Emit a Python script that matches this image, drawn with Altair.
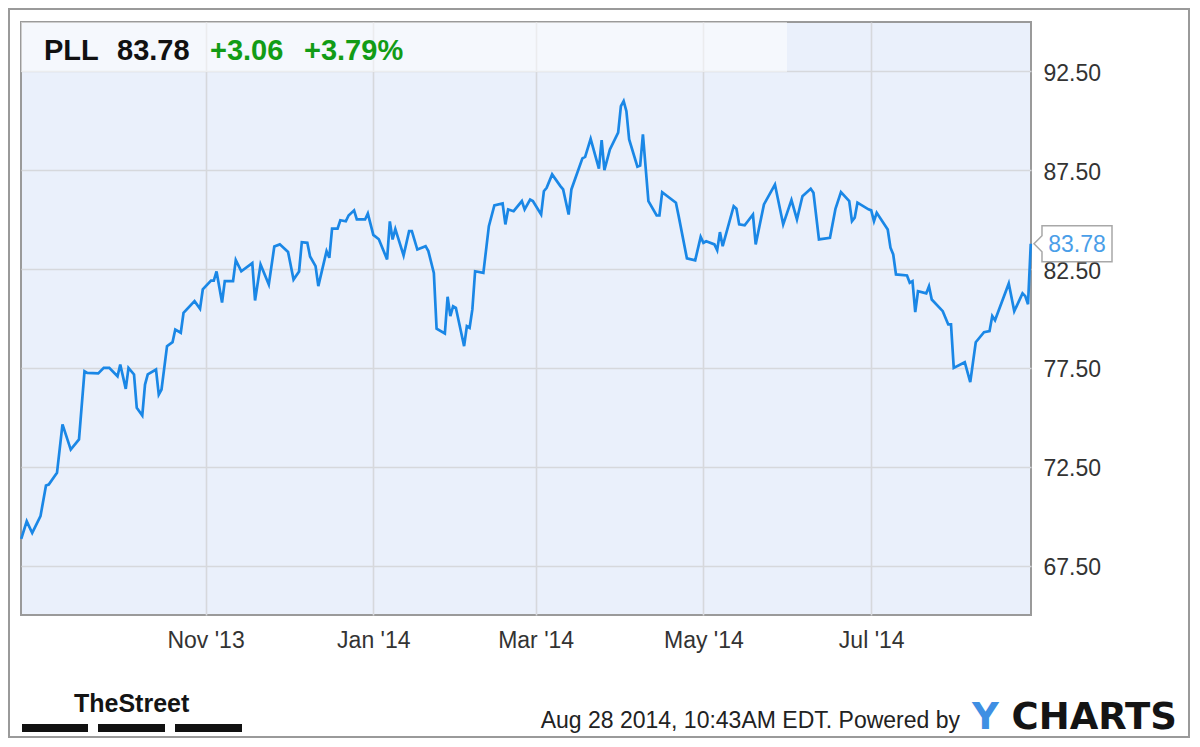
import altair as alt
import pandas as pd

# ---- data ----
dates = [
    "2013-08-26", "2013-08-28", "2013-08-30", "2013-09-02", "2013-09-04", "2013-09-05",
    "2013-09-08", "2013-09-10", "2013-09-13", "2013-09-16", "2013-09-18", "2013-09-19",
    "2013-09-23", "2013-09-25", "2013-09-27", "2013-09-30", "2013-10-01", "2013-10-03",
    "2013-10-04", "2013-10-06", "2013-10-07", "2013-10-09", "2013-10-10", "2013-10-11",
    "2013-10-14", "2013-10-15", "2013-10-16", "2013-10-18", "2013-10-20", "2013-10-21",
    "2013-10-23", "2013-10-24", "2013-10-28", "2013-10-30", "2013-10-31", "2013-11-03",
    "2013-11-04", "2013-11-05", "2013-11-07", "2013-11-08", "2013-11-11", "2013-11-12",
    "2013-11-14", "2013-11-18", "2013-11-19", "2013-11-21", "2013-11-24", "2013-11-26",
    "2013-11-28", "2013-12-01", "2013-12-03", "2013-12-05", "2013-12-06", "2013-12-08",
    "2013-12-09", "2013-12-11", "2013-12-12", "2013-12-15", "2013-12-16", "2013-12-17",
    "2013-12-19", "2013-12-20", "2013-12-22", "2013-12-23", "2013-12-25", "2013-12-26",
    "2013-12-29", "2013-12-30", "2014-01-01", "2014-01-03", "2014-01-06", "2014-01-07",
    "2014-01-08", "2014-01-09", "2014-01-10", "2014-01-12", "2014-01-14", "2014-01-15",
    "2014-01-17", "2014-01-20", "2014-01-21", "2014-01-23", "2014-01-24", "2014-01-27",
    "2014-01-28", "2014-01-29", "2014-01-30", "2014-01-31", "2014-02-03", "2014-02-04",
    "2014-02-05", "2014-02-06", "2014-02-07", "2014-02-10", "2014-02-12", "2014-02-14",
    "2014-02-17", "2014-02-18", "2014-02-19", "2014-02-21", "2014-02-24", "2014-02-25",
    "2014-02-27", "2014-02-28", "2014-03-03", "2014-03-04", "2014-03-05", "2014-03-07",
    "2014-03-10", "2014-03-11", "2014-03-13", "2014-03-14", "2014-03-18", "2014-03-19",
    "2014-03-21", "2014-03-24", "2014-03-25", "2014-03-26", "2014-03-28", "2014-03-31",
    "2014-04-01", "2014-04-02", "2014-04-03", "2014-04-04", "2014-04-07", "2014-04-08",
    "2014-04-09", "2014-04-11", "2014-04-14", "2014-04-15", "2014-04-16", "2014-04-21",
    "2014-04-22", "2014-04-25", "2014-04-28", "2014-04-30", "2014-05-01", "2014-05-02",
    "2014-05-05", "2014-05-06", "2014-05-07", "2014-05-08", "2014-05-12", "2014-05-13",
    "2014-05-14", "2014-05-16", "2014-05-19", "2014-05-20", "2014-05-23", "2014-05-27",
    "2014-05-30", "2014-06-02", "2014-06-04", "2014-06-06", "2014-06-09", "2014-06-10",
    "2014-06-12", "2014-06-16", "2014-06-18", "2014-06-20", "2014-06-23", "2014-06-24",
    "2014-06-25", "2014-06-26", "2014-06-30", "2014-07-01", "2014-07-02", "2014-07-03",
    "2014-07-07", "2014-07-08", "2014-07-09", "2014-07-10", "2014-07-14", "2014-07-15",
    "2014-07-16", "2014-07-17", "2014-07-18", "2014-07-21", "2014-07-22", "2014-07-23",
    "2014-07-27", "2014-07-29", "2014-07-30", "2014-07-31", "2014-08-04", "2014-08-06",
    "2014-08-08", "2014-08-11", "2014-08-13", "2014-08-14", "2014-08-15", "2014-08-20",
    "2014-08-22", "2014-08-25", "2014-08-26", "2014-08-27", "2014-08-28",
]

prices = [
    68.85, 69.74, 69.15, 70.00, 71.55, 71.60,
    72.19, 74.64, 73.37, 73.88, 77.33, 77.25,
    77.22, 77.50, 77.50, 77.08, 77.67, 76.44,
    77.50, 77.17, 75.48, 75.09, 76.66, 77.17,
    77.42, 76.15, 76.41, 78.60, 78.80, 79.44,
    79.28, 80.29, 80.88, 80.49, 81.47, 81.92,
    81.92, 82.38, 80.81, 81.89, 81.89, 82.95,
    82.39, 82.80, 80.91, 82.73, 81.72, 83.64,
    83.75, 83.37, 81.97, 82.38, 83.86, 83.83,
    83.14, 82.65, 81.64, 83.41, 83.07, 84.55,
    84.55, 84.97, 84.92, 85.21, 85.47, 85.01,
    85.01, 85.31, 84.23, 84.01, 82.99, 84.91,
    84.00, 84.52, 84.08, 83.19, 84.42, 84.42,
    83.49, 83.66, 83.41, 82.31, 79.48, 79.24,
    81.10, 80.12, 80.62, 80.54, 78.60, 79.61,
    79.53, 80.46, 82.39, 82.31, 84.67, 85.72,
    85.82, 84.76, 85.52, 85.43, 85.94, 85.52,
    86.02, 85.94, 85.26, 86.44, 86.61, 87.29,
    86.70, 86.53, 85.26, 86.53, 88.10, 88.18,
    89.09, 87.58, 89.02, 87.51, 88.55, 89.40,
    90.74, 91.00, 90.49, 89.06, 87.68, 87.74,
    89.31, 85.94, 85.21, 85.21, 86.39, 85.86,
    85.18, 83.04, 82.94, 84.13, 83.83, 83.91,
    83.75, 83.46, 84.37, 83.66, 85.68, 85.55,
    84.76, 84.71, 85.26, 83.75, 85.77, 86.78,
    84.76, 85.99, 85.01, 86.19, 86.56, 86.36,
    84.00, 84.08, 85.55, 86.39, 85.94, 84.92,
    85.10, 85.86, 85.52, 85.47, 84.92, 85.35,
    84.50, 83.58, 83.24, 82.23, 82.18, 81.81,
    81.89, 80.32, 81.38, 81.27, 81.63, 80.96,
    80.37, 79.70, 79.70, 77.50, 77.79, 76.78,
    78.80, 79.31, 79.36, 80.12, 79.91, 81.77,
    80.37, 81.27, 81.13, 80.72, 83.78,
]

ticker = "PLL"
last_price = "83.78"
change_abs = "+3.06"
change_pct = "+3.79%"
y_ticks = [67.5, 72.5, 77.5, 82.5, 87.5, 92.5]
x_tick_months = [(2013, 11), (2014, 1), (2014, 3), (2014, 5), (2014, 7)]
footer_text = "Aug 28 2014, 10:43AM EDT.  Powered by"
brand_left = "TheStreet"
brand_right_a = "Y"
brand_right_b = "CHARTS"

# ---- chart ----
df = pd.DataFrame({"date": [d + "T00:00:00" for d in dates], "price": prices})
last_row = df.tail(1)
one = pd.DataFrame({"k": [0]})

W, H = 1010, 593
FONT = "Liberation Sans, Arial, Helvetica, sans-serif"
LINE_COLOR = "#1a87e6"

x_scale = alt.Scale(domain=[
    alt.DateTime(year=2013, month=8, date=25, hours=22),
    alt.DateTime(year=2014, month=8, date=28, hours=2),
])
y_scale = alt.Scale(domain=[65, 95], zero=False, nice=False)

x_enc = alt.X(
    "date:T", scale=x_scale,
    axis=alt.Axis(
        values=[alt.DateTime(year=y, month=m, date=1) for y, m in x_tick_months],
        format="%b '%y", title=None, domain=False, ticks=False,
        labelFontSize=23, labelColor="#333333", labelFont=FONT,
        labelPadding=14, labelFlush=False,
        grid=True, gridColor="#d6d8dc", gridWidth=1.6,
    ),
)
y_enc = alt.Y(
    "price:Q", scale=y_scale,
    axis=alt.Axis(
        orient="right", values=y_ticks, format=".2f", title=None,
        domain=False, ticks=False,
        labelFontSize=23, labelColor="#333333", labelFont=FONT,
        labelPadding=12, labelOffset=2,
        grid=True, gridColor="#d6d8dc", gridWidth=1.6,
    ),
)

header_band = alt.Chart(one).mark_rect(fill="white", opacity=0.5).encode(
    x=alt.value(0), x2=alt.value(766), y=alt.value(0), y2=alt.value(50)
)

line = alt.Chart(df).mark_line(color=LINE_COLOR, strokeWidth=2.7).encode(x=x_enc, y=y_enc)


def label(text, x, y, size, color, weight="normal", align="left", font=FONT):
    return alt.Chart(one).mark_text(
        text=text, align=align, baseline="alphabetic", fontSize=size,
        fontWeight=weight, color=color, font=font,
    ).encode(x=alt.value(x), y=alt.value(y))


callout_path = ("M -0.795 -0.4615 L 1 -0.4615 L 1 0.4615 L -0.795 0.4615 "
                "L -0.795 0.205 L -1 0 L -0.795 -0.205 Z")
callout_box = alt.Chart(last_row).mark_point(
    shape=callout_path, size=6084, filled=True, fill="white",
    stroke="#a8a8a8", strokeWidth=1.5, opacity=1,
).encode(x=alt.value(1052), y=y_enc)
callout_text = alt.Chart(last_row).mark_text(
    align="center", baseline="middle", fontSize=23, color="#4a9ee8", font=FONT, dy=1,
).encode(x=alt.value(1056), y=y_enc, text=alt.Text("price:Q", format=".2f"))

bar1 = alt.Chart(one).mark_rect(color="#111111").encode(
    x=alt.value(1), x2=alt.value(67), y=alt.value(702), y2=alt.value(710))
bar2 = alt.Chart(one).mark_rect(color="#111111").encode(
    x=alt.value(77), x2=alt.value(144), y=alt.value(702), y2=alt.value(710))
bar3 = alt.Chart(one).mark_rect(color="#111111").encode(
    x=alt.value(154), x2=alt.value(221), y=alt.value(702), y2=alt.value(710))

outer_border = alt.Chart(one).mark_rect(
    fillOpacity=0, stroke="#9a9a9a", strokeWidth=2
).encode(x=alt.value(-12), x2=alt.value(1168), y=alt.value(-13), y2=alt.value(715))

chart = alt.layer(
    header_band,
    line,
    callout_box,
    callout_text,
    label(ticker, 23, 38, 29, "#111111", "bold"),
    label(last_price, 96, 38, 29, "#111111", "bold"),
    label(change_abs, 189, 38, 29, "#129c16", "bold"),
    label(change_pct, 283, 38, 29, "#129c16", "bold"),
    label(footer_text, 939, 706, 23, "#222222", align="right"),
    label(brand_right_a, 951, 707, 37, "#3f8fe3", "bold", font="DejaVu Sans"),
    label(brand_right_b, 1156, 707, 37, "#141414", "bold", align="right", font="DejaVu Sans"),
    label(brand_left, 53, 690, 25, "#141414", "bold"),
    bar1, bar2, bar3,
    outer_border,
).properties(
    width=W, height=H,
    autosize="none",
    padding={"left": 13, "top": 14, "right": 159, "bottom": 123},
    background="white",
).configure_view(
    fill="#eaf0fb", stroke="#9a9a9a", strokeWidth=2,
)

chart.save("out.html", embed_options={"renderer": "svg", "actions": False})
